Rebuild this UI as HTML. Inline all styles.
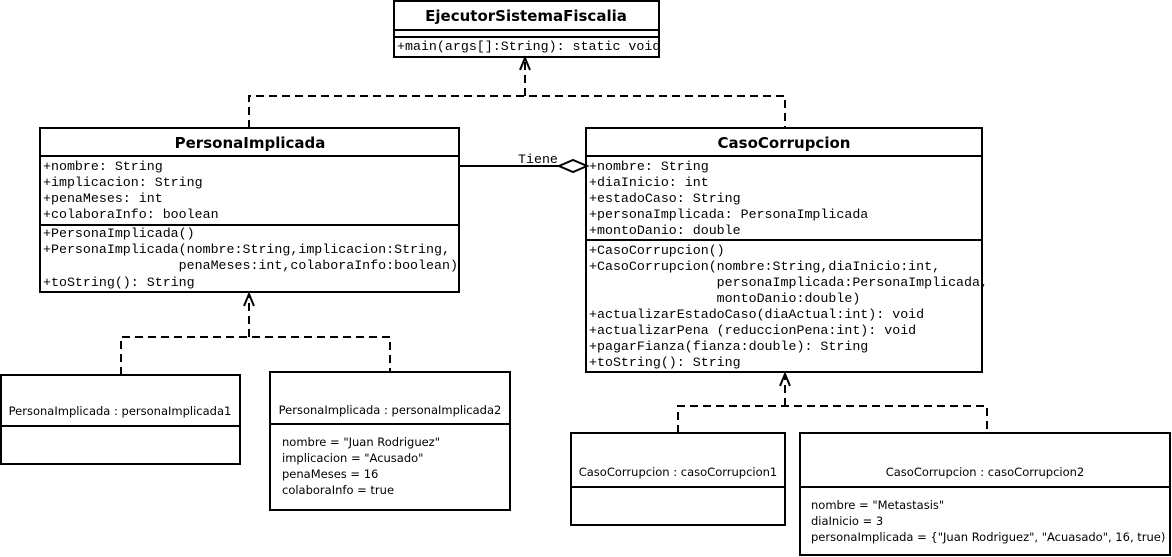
<!DOCTYPE html>
<html><head><meta charset="utf-8"><style>
html,body{margin:0;padding:0;background:#fff;}
svg{display:block;}
.m{font-family:"Liberation Mono",monospace;font-size:13.3px;fill:#000;}
.t{font-family:"DejaVu Sans","Liberation Sans",sans-serif;font-size:15px;font-weight:bold;fill:#000;}
.s{font-family:"DejaVu Sans","Liberation Sans",sans-serif;font-size:11.5px;fill:#000;}
</style></head><body>
<svg width="1172" height="557" viewBox="0 0 1172 557" xmlns="http://www.w3.org/2000/svg">
<g fill="none" stroke="#000" stroke-width="2">
<rect x="394" y="1" width="265" height="56"/>
<line x1="394" y1="30" x2="659" y2="30"/>
<line x1="394" y1="37" x2="659" y2="37"/>
<rect x="40" y="128" width="419" height="164"/>
<line x1="40" y1="156" x2="459" y2="156"/>
<line x1="40" y1="225" x2="459" y2="225"/>
<rect x="586" y="128" width="396" height="244"/>
<line x1="586" y1="156" x2="982" y2="156"/>
<line x1="586" y1="240" x2="982" y2="240"/>
<rect x="1" y="375" width="239" height="89"/>
<line x1="1" y1="426" x2="240" y2="426"/>
<rect x="270" y="372" width="240" height="138"/>
<line x1="270" y1="424" x2="510" y2="424"/>
<rect x="571" y="433" width="214" height="92"/>
<line x1="571" y1="487" x2="785" y2="487"/>
<rect x="800" y="433" width="370" height="122"/>
<line x1="800" y1="487" x2="1170" y2="487"/>
</g>
<g fill="none" stroke="#000" stroke-width="2" stroke-dasharray="8,5">
<polyline points="249,128 249,96 785,96 785,128"/>
<line x1="525" y1="96" x2="525" y2="60"/>
<polyline points="121,375 121,337 390,337 390,372"/>
<line x1="249" y1="337" x2="249" y2="295"/>
<polyline points="678,433 678,406 987,406 987,433"/>
<line x1="785" y1="406" x2="785" y2="375"/>
</g>
<g fill="none" stroke="#000" stroke-width="2">
<polyline points="520,70 525,58 530,70"/>
<polyline points="244,306 249,294 254,306"/>
<polyline points="780,386 785,374 790,386"/>
<line x1="459" y1="166" x2="559" y2="166"/>
<polygon points="559,166 573,160 587,166 573,172" fill="#fff"/>
</g>
<svg x="394" y="37" width="265" height="20" overflow="hidden"><text class="m" x="3" y="13">+main(args[]:String): static void</text></svg>
<text class="m" x="518" y="163">Tiene</text>
<text class="t" x="526" y="21" text-anchor="middle">EjecutorSistemaFiscalia</text>
<text class="t" x="250" y="148" text-anchor="middle">PersonaImplicada</text>
<g class="m">
<text x="43" y="170">+nombre: String</text>
<text x="43" y="186">+implicacion: String</text>
<text x="43" y="202">+penaMeses: int</text>
<text x="43" y="218">+colaboraInfo: boolean</text>
<text x="43" y="237">+PersonaImplicada()</text>
<text x="43" y="253">+PersonaImplicada(nombre:String,implicacion:String,</text>
<text x="43" y="269" xml:space="preserve">                 penaMeses:int,colaboraInfo:boolean)</text>
<text x="43" y="286">+toString(): String</text>
</g>
<text class="t" x="784" y="148" text-anchor="middle">CasoCorrupcion</text>
<g class="m">
<text x="589" y="170">+nombre: String</text>
<text x="589" y="186">+diaInicio: int</text>
<text x="589" y="202">+estadoCaso: String</text>
<text x="589" y="218">+personaImplicada: PersonaImplicada</text>
<text x="589" y="234">+montoDanio: double</text>
<text x="589" y="254">+CasoCorrupcion()</text>
<text x="589" y="270">+CasoCorrupcion(nombre:String,diaInicio:int,</text>
<text x="589" y="286" xml:space="preserve">                personaImplicada:PersonaImplicada,</text>
<text x="589" y="302" xml:space="preserve">                montoDanio:double)</text>
<text x="589" y="318">+actualizarEstadoCaso(diaActual:int): void</text>
<text x="589" y="334">+actualizarPena (reduccionPena:int): void</text>
<text x="589" y="350">+pagarFianza(fianza:double): String</text>
<text x="589" y="366">+toString(): String</text>
</g>
<g class="s">
<text x="120" y="415" text-anchor="middle">PersonaImplicada : personaImplicada1</text>
<text x="390" y="414" text-anchor="middle">PersonaImplicada : personaImplicada2</text>
<text x="282" y="446">nombre = "Juan Rodriguez"</text>
<text x="282" y="462">implicacion = "Acusado"</text>
<text x="282" y="478">penaMeses = 16</text>
<text x="282" y="494">colaboraInfo = true</text>
<text x="678" y="476" text-anchor="middle">CasoCorrupcion : casoCorrupcion1</text>
<text x="985" y="476" text-anchor="middle">CasoCorrupcion : casoCorrupcion2</text>
<text x="811" y="509">nombre = "Metastasis"</text>
<text x="811" y="525">diaInicio = 3</text>
<text x="811" y="541">personaImplicada = {"Juan Rodriguez", "Acuasado", 16, true)</text>
</g>
</svg>
</body></html>
